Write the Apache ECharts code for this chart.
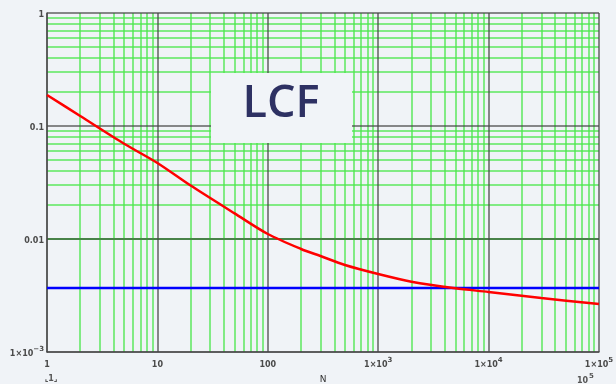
<!DOCTYPE html>
<html><head><meta charset="utf-8">
<script src="https://cdn.jsdelivr.net/npm/echarts@6/dist/echarts.min.js"></script>
<style>html,body{margin:0;padding:0;background:#f0f3f7;}#c{width:616px;height:384px;}</style>
</head><body><div id="c"></div>
<script>
// Data (log-log)
const lcfN = [1, 2, 5, 10, 20, 50, 100, 200, 300, 500, 1000, 2000, 5000, 10000, 30000, 100000];
const lcfValues = [0.188, 0.1226, 0.0696, 0.0471, 0.0297, 0.01686, 0.01107, 0.00816, 0.00707, 0.00589, 0.0049, 0.00419, 0.00366, 0.0034, 0.0030, 0.00266];
const limitN = [1, 100000];
const limitValues = [0.00368, 0.00368];
const xRange = [1, 100000];
const yRange = [0.001, 1];
const titleText = 'LCF';
const axisNameX = 'N';

const chart = echarts.init(document.getElementById('c'));

function sup(e){ return '{a|1×10}{s|' + e + '}'; }
function xFmt(v){
  const e = Math.round(Math.log10(v));
  if (e < 3) return '{a|' + Math.pow(10, e) + '}';
  return sup(e);
}
function yFmt(v){
  const e = Math.round(Math.log10(v));
  if (e === 0) return '{a|1}';
  if (e === -1) return '{a|0.1}';
  if (e === -2) return '{a|0.01}';
  return sup('−' + (-e));
}
const rich = {
  a: {fontSize: 8, color: '#4a4a4a', fontFamily: 'DejaVu Sans', fontWeight: 'bold', lineHeight: 12, verticalAlign: 'bottom'},
  s: {fontSize: 7, color: '#4a4a4a', fontFamily: 'DejaVu Sans', fontWeight: 'bold', lineHeight: 12, verticalAlign: 'top', padding: [0,0,6,0]}
};

// minor (green) grid positions: 2..9 in each decade
const minorX = [], minorY = [];
for (let d = 0; d < 5; d++) for (let k = 2; k <= 9; k++) minorX.push({xAxis: k * Math.pow(10, d)});
for (let d = -3; d < 0; d++) for (let k = 2; k <= 9; k++) minorY.push({yAxis: +(k * Math.pow(10, d)).toPrecision(3)});

const majorStyle = {color: 'rgba(70,70,70,0.85)', width: 1.5};

chart.setOption({
  backgroundColor: '#f0f3f7',
  animation: false,
  grid: {left: 47, right: 17, top: 13, bottom: 32, containLabel: false, outerBoundsMode: 'none'},
  xAxis: {
    type: 'log', logBase: 10, min: xRange[0], max: xRange[1], splitNumber: 5, z: 2,
    name: axisNameX, nameLocation: 'middle', nameGap: 23,
    nameTextStyle: {fontSize: 9, color: '#333', fontFamily: 'DejaVu Sans'},
    axisLine: {show: true, lineStyle: majorStyle},
    axisTick: {show: false},
    splitLine: {show: true, lineStyle: majorStyle},
    minorTick: {show: false}, minorSplitLine: {show: false},
    axisLabel: {margin: 5, formatter: xFmt, rich: rich, showMinLabel: true, showMaxLabel: true, hideOverlap: false}
  },
  yAxis: {
    type: 'log', logBase: 10, min: yRange[0], max: yRange[1], splitNumber: 3, z: 2,
    axisLine: {show: true, lineStyle: majorStyle},
    axisTick: {show: false},
    splitLine: {show: true, lineStyle: majorStyle},
    minorTick: {show: false}, minorSplitLine: {show: false},
    axisLabel: {margin: 3, formatter: yFmt, rich: rich, showMinLabel: true, showMaxLabel: true, hideOverlap: false}
  },
  graphic: [
    {type: 'rect', z: 3, shape: {x: 211, y: 73, width: 141, height: 70}, style: {fill: '#f1f4f8'}},
    {type: 'text', z: 4, x: 281, y: 104, style: {text: titleText, fill: '#2e3163', font: '600 45px "Open Sans"', textAlign: 'center', textVerticalAlign: 'middle'}},
    {type: 'text', z: 4, x: 51, y: 379, style: {text: '⌞1⌟', fill: '#555', font: 'bold 8px "DejaVu Sans"', textAlign: 'center', textVerticalAlign: 'middle'}},
    {type: 'text', z: 4, x: 577, y: 381, style: {text: '10', fill: '#555', font: 'bold 8px "DejaVu Sans"', textAlign: 'left', textVerticalAlign: 'middle'}},
    {type: 'text', z: 4, x: 589, y: 376, style: {text: '5', fill: '#555', font: 'bold 7px "DejaVu Sans"', textAlign: 'left', textVerticalAlign: 'middle'}}
  ],
  series: [
    {
      type: 'line', name: 'grid', data: [], z: 1, silent: true,
      markLine: {silent: true, symbol: 'none', z: 1, label: {show: false},
        lineStyle: {color: '#4de84d', width: 1.5, type: 'solid', opacity: 0.9},
        data: minorX.concat(minorY)}
    },
    {
      type: 'line', name: 'LCF', z: 10, smooth: 0.3, showSymbol: false,
      lineStyle: {color: '#ff0000', width: 2.5},
      data: lcfN.map((n, i) => [n, lcfValues[i]])
    },
    {
      type: 'line', name: 'limit', z: 9, showSymbol: false,
      lineStyle: {color: '#0000ff', width: 2.5},
      data: limitN.map((n, i) => [n, limitValues[i]])
    }
  ]
});
</script></body></html>
